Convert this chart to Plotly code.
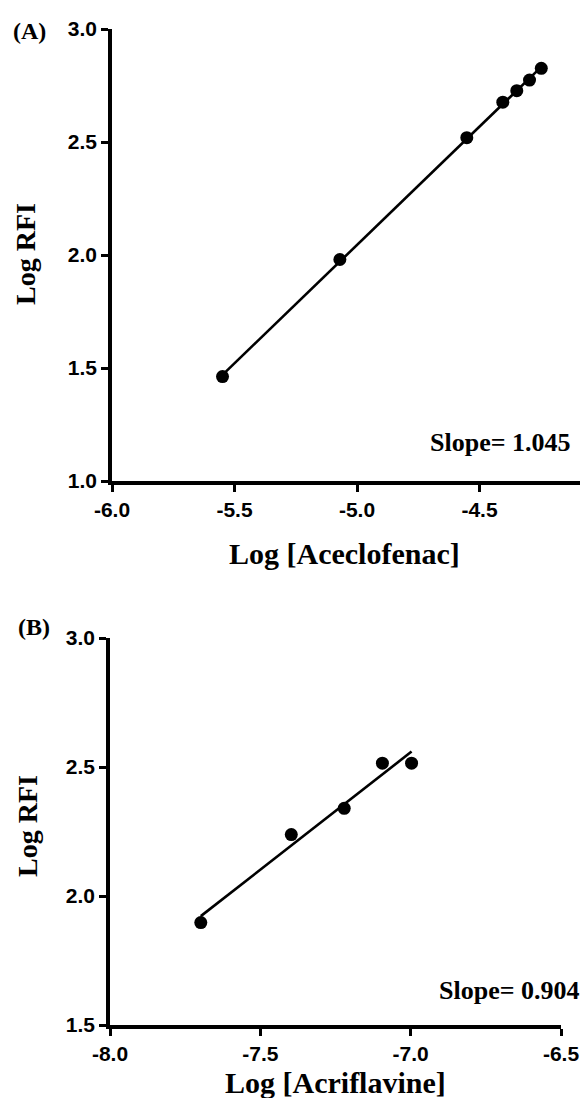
import numpy as np
import plotly.graph_objects as go

# Panel A data (Aceclofenac)
a_logconc = [-5.549, -5.070, -4.552, -4.405, -4.348, -4.296, -4.248]
a_logrfi = [1.462, 1.980, 2.519, 2.676, 2.727, 2.774, 2.826]
a_slope_text = "Slope= 1.045"
a_xticks = [-6.0, -5.5, -5.0, -4.5]
a_xticklabels = ["-6.0", "-5.5", "-5.0", "-4.5"]
a_yticks = [1.0, 1.5, 2.0, 2.5, 3.0]
a_yticklabels = ["1.0", "1.5", "2.0", "2.5", "3.0"]

# Panel B data (Acriflavine)
b_logconc = [-7.698, -7.397, -7.221, -7.094, -6.997]
b_logrfi = [1.897, 2.238, 2.340, 2.515, 2.515]
b_slope_text = "Slope= 0.904"
b_xticks = [-8.0, -7.5, -7.0, -6.5]
b_xticklabels = ["-8.0", "-7.5", "-7.0", "-6.5"]
b_yticks = [1.5, 2.0, 2.5, 3.0]
b_yticklabels = ["1.5", "2.0", "2.5", "3.0"]

W, H = 585, 1098

def px(x):
    return x / W

def py(y):
    return 1 - y / H

fig = go.Figure()

def add_panel(xs, ys, xa, ya):
    xs = np.array(xs)
    ys = np.array(ys)
    m, c = np.polyfit(xs, ys, 1)
    lx = np.array([xs.min(), xs.max()])
    fig.add_trace(go.Scatter(x=lx, y=m * lx + c, mode="lines",
                             line=dict(color="black", width=2.6),
                             xaxis=xa, yaxis=ya, showlegend=False, hoverinfo="skip"))
    fig.add_trace(go.Scatter(x=xs, y=ys, mode="markers",
                             marker=dict(color="black", size=13),
                             xaxis=xa, yaxis=ya, showlegend=False))

add_panel(a_logconc, a_logrfi, "x", "y")
add_panel(b_logconc, b_logrfi, "x2", "y2")

tickfont = dict(family="Liberation Sans, Arial", size=21, color="black")
axis_common = dict(showgrid=False, zeroline=False, showline=True, linecolor="black",
                   linewidth=3.5, ticks="outside", ticklen=7, tickwidth=3,
                   tickcolor="black", tickfont=tickfont, automargin=False,
                   tickmode="array")

def bold(labels):
    return ["<b>%s</b>" % t for t in labels]

fig.update_layout(
    width=W, height=H,
    margin=dict(l=0, r=0, t=0, b=0),
    paper_bgcolor="white", plot_bgcolor="white",
    xaxis=dict(domain=[px(112), px(580)], range=[-6.0, -4.09],
               tickvals=a_xticks, ticktext=bold(a_xticklabels),
               anchor="y", **axis_common),
    yaxis=dict(domain=[py(481), py(29)], range=[1.0, 3.0],
               tickvals=a_yticks, ticktext=bold(a_yticklabels),
               anchor="x", **axis_common),
    xaxis2=dict(domain=[px(110), px(561)], range=[-8.0, -6.5],
                tickvals=b_xticks, ticktext=bold(b_xticklabels),
                anchor="y2", **axis_common),
    yaxis2=dict(domain=[py(1025), py(638)], range=[1.5, 3.0],
                tickvals=b_yticks, ticktext=bold(b_yticklabels),
                anchor="x2", **axis_common),
)

serif = "Liberation Serif, Times New Roman"
def ann(text, x, y, size, angle=0, xanchor="center"):
    fig.add_annotation(text="<b>%s</b>" % text, x=px(x), y=py(y), xref="paper", yref="paper",
                       showarrow=False, textangle=angle, xanchor=xanchor, yanchor="middle",
                       font=dict(family=serif, size=size, color="black"))

ann("(A)", 29, 31, 24)
ann("(B)", 34, 627, 24)
ann("Log RFI", 26, 254, 28, angle=-90)
ann("Log RFI", 27, 826, 28, angle=-90)
ann("Log [Aceclofenac]", 344, 553, 30)
ann("Log [Acriflavine]", 335, 1082, 30)
ann(a_slope_text, 573, 442, 26, xanchor="right")
ann(b_slope_text, 582, 990, 26, xanchor="right")

fig.write_html("out.html", config={"displayModeBar": False},
               post_script="document.body.style.margin='0';document.body.style.overflow='hidden';")
